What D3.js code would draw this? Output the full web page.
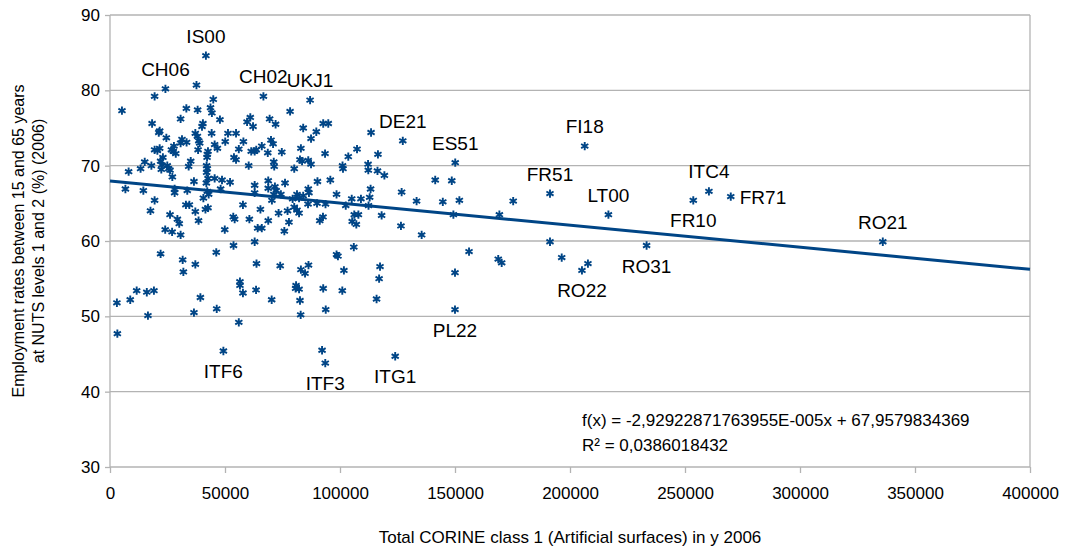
<!DOCTYPE html>
<html>
<head>
<meta charset="utf-8">
<script src="https://cdn.jsdelivr.net/npm/d3@7"></script>
<style>
  body { margin: 0; background: #fff; }
  text { font-family: "Liberation Sans", Arial, sans-serif; fill: #000; }
</style>
</head>
<body>
<div id="chart"></div>
<script>
// CORINE class 1 area (x) vs employment rate (y), one pair per NUTS region
var corineX = [
  5200, 19400, 24100, 37600, 41700, 44900, 33200, 38100, 43700, 44300,
  30700, 18300, 40400, 40000, 47800, 61000, 59600, 62200, 21600, 21200,
  24500, 37100, 38000, 44200, 51300, 54800, 31300, 30700, 33300, 38600,
  39000, 45500, 46700, 50100, 58000, 27800, 26700, 27500, 28600, 21600,
  20600, 19400, 38300, 42600, 42300, 42200, 56000, 61400, 62900, 53900,
  54800, 23000, 22000, 22600, 22300, 35100, 34200, 15100, 13300, 18000,
  24900, 25500, 26100, 42000, 42300, 42000, 42600, 41900, 60300, 8100,
  27100, 36500, 45500, 48700, 52200, 62900, 6700, 14500, 28100, 28100,
  33600, 42300, 42900, 48100, 40600, 19400, 33000, 34500, 57800, 62900,
  66700, 87000, 78300, 69400, 72000, 84000, 92700, 94900, 89700, 87400,
  113500, 127300, 70000, 70900, 66000, 63600, 68600, 74700, 83000, 93500,
  107400, 103600, 116500, 82600, 83500, 86200, 87400, 71200, 71400, 80100,
  101100, 101300, 112200, 112300, 116300, 119300, 68800, 68800, 76100, 90200,
  95800, 113300, 71700, 72300, 71200, 74300, 70400, 81300, 84000, 82200,
  86200, 86500, 98500, 105100, 109100, 112900, 126800, 79400, 17600, 37100,
  41500, 42600, 26100, 29300, 30100, 38500, 53600, 54200, 60600, 24000,
  27000, 30700, 49900, 64200, 66000, 53700, 62900, 22000, 31600, 37100,
  46200, 63700, 31900, 56500, 56500, 57800, 11600, 16000, 19100, 3000,
  8800, 39300, 46400, 36500, 16500, 56000, 3200, 49300, 63500, 65400,
  73300, 77200, 80100, 81300, 82200, 86100, 90000, 93700, 102500, 112400,
  106200, 108000, 105300, 107100, 118100, 92600, 91200, 68800, 77800, 126500,
  75800, 106000, 98500, 99100, 74000, 86300, 83000, 84800, 101700, 117400,
  117000, 80900, 80700, 82200, 92700, 101000, 115900, 70300, 82600, 93800,
  82900, 92200, 93600, 124000, 135500, 141400, 148600, 150100, 151900, 144700,
  133300, 149300, 156100, 150000, 150000, 169300, 175300, 168800, 170300, 191300,
  191300, 196400, 205200, 207800, 206400, 216700, 233300, 253600, 260400, 269900,
  336000
];
var employY = [
  77.3, 79.2, 80.2, 80.7, 84.6, 78.8, 77.6, 77.4, 77.7, 77.0,
  76.2, 75.6, 75.6, 75.2, 76.1, 76.4, 75.8, 75.2, 74.6, 74.4,
  73.7, 74.3, 73.9, 74.3, 74.3, 74.3, 73.5, 73.0, 73.1, 73.3,
  73.0, 72.8, 72.3, 73.2, 73.2, 72.6, 72.1, 71.9, 71.6, 72.3,
  72.0, 72.1, 72.1, 71.9, 71.5, 71.1, 72.2, 71.9, 71.9, 71.1,
  70.8, 71.1, 70.6, 70.1, 69.5, 70.6, 69.9, 70.5, 69.6, 70.0,
  70.0, 69.6, 69.4, 70.0, 69.6, 69.1, 68.3, 67.7, 70.0, 69.2,
  68.5, 67.9, 68.3, 68.1, 67.8, 67.4, 66.9, 66.7, 66.9, 66.4,
  66.7, 66.6, 66.2, 66.9, 65.7, 65.4, 64.8, 64.8, 64.8, 66.4,
  79.2, 78.7, 77.2, 76.2, 75.5, 75.0, 75.6, 75.6, 74.5, 73.6,
  74.4, 73.3, 73.4, 72.9, 72.6, 72.1, 71.7, 71.8, 72.3, 71.6,
  72.2, 71.2, 71.5, 70.8, 70.6, 70.7, 70.2, 70.5, 69.9, 69.6,
  70.0, 69.6, 70.2, 69.4, 69.3, 68.7, 68.0, 67.0, 67.7, 67.9,
  68.1, 66.9, 67.2, 66.7, 66.2, 66.2, 65.4, 66.2, 66.0, 65.7,
  66.9, 66.4, 66.2, 65.6, 65.6, 65.8, 66.5, 65.6, 64.0, 63.9,
  64.2, 64.4, 63.5, 62.9, 62.3, 62.7, 63.2, 62.9, 62.9, 61.5,
  61.2, 60.8, 61.5, 61.7, 61.7, 59.4, 59.9, 58.3, 57.5, 56.9,
  58.5, 57.0, 55.9, 54.6, 54.1, 53.1, 53.4, 53.2, 53.4, 51.8,
  52.2, 52.5, 51.0, 50.5, 50.1, 49.2, 47.7, 45.4, 53.5, 64.2,
  63.7, 64.0, 64.5, 64.1, 63.7, 64.9, 65.0, 64.9, 64.7, 64.7,
  63.5, 63.5, 62.6, 62.2, 63.4, 63.2, 62.7, 62.7, 62.5, 62.0,
  61.3, 59.2, 58.2, 58.0, 56.7, 56.8, 56.2, 55.7, 56.1, 56.6,
  55.0, 54.1, 53.7, 53.6, 53.7, 53.4, 52.3, 52.2, 52.1, 50.9,
  50.2, 45.5, 43.8, 44.7, 60.8, 68.1, 68.0, 70.4, 65.4, 65.2,
  65.3, 63.5, 58.6, 55.8, 50.9, 63.5, 65.3, 57.6, 57.1, 66.3,
  59.9, 57.8, 56.1, 57.0, 72.6, 63.5, 59.4, 65.4, 66.6, 65.9,
  59.9
];

// region labels and where they sit relative to their point
var labelNames = ["IS00", "CH06", "CH02", "UKJ1", "DE21", "ES51", "FI18", "FR51", "LT00", "ITC4",
  "FR71", "FR10", "RO21", "RO31", "RO22", "PL22", "ITF6", "ITF3", "ITG1"];
var labelX = [41700, 24100, 66700, 87000, 127300, 150100, 206400, 191300, 216700, 260400,
  269900, 253600, 336000, 233300, 205200, 150000, 49300, 93600, 124000];
var labelY = [84.6, 80.2, 79.2, 78.7, 73.3, 70.4, 72.6, 66.3, 63.5, 66.6,
  65.9, 65.4, 59.9, 59.4, 56.1, 50.9, 45.4, 43.8, 44.7];
var labelPos = ["above", "above", "above", "above", "above", "above", "above", "above", "above", "above",
  "right", "below", "above", "below", "below", "below", "below", "below", "below"];

var xTicks = [0, 50000, 100000, 150000, 200000, 250000, 300000, 350000, 400000];
var yTicks = [30, 40, 50, 60, 70, 80, 90];

// linear trend as printed on the chart
var slope = -2.92922871763955e-5;
var intercept = 67.9579834369;
var eqText = "f(x) = -2,92922871763955E-005x + 67,9579834369";
var r2Text = "R² = 0,0386018432";

var svgWidth = 1067;
var svgHeight = 553;
var margin = { top: 15, right: 37, bottom: 86, left: 110 };
var width = svgWidth - margin.left - margin.right;
var height = svgHeight - margin.top - margin.bottom;
var blue = "#004586";
var grid = "#b3b3b3";

var svg = d3.select("#chart").append("svg")
  .attr("width", svgWidth)
  .attr("height", svgHeight);

var chartGroup = svg.append("g")
  .attr("transform", `translate(${margin.left}, ${margin.top})`);

var xLinearScale = d3.scaleLinear().domain([0, 400000]).range([0, width]);
var yLinearScale = d3.scaleLinear().domain([30, 90]).range([height, 0]);

// horizontal grid lines
chartGroup.append("g")
  .selectAll("line")
  .data(yTicks)
  .enter()
  .append("line")
  .attr("x1", 0)
  .attr("x2", width)
  .attr("y1", d => yLinearScale(d))
  .attr("y2", d => yLinearScale(d))
  .attr("stroke", grid)
  .attr("stroke-width", 1.3);

// left and right frame
chartGroup.append("line")
  .attr("x1", 0).attr("x2", 0).attr("y1", 0).attr("y2", height)
  .attr("stroke", grid).attr("stroke-width", 1.3);
chartGroup.append("line")
  .attr("x1", width).attr("x2", width).attr("y1", 0).attr("y2", height)
  .attr("stroke", grid).attr("stroke-width", 1.3);

var bottomAxis = d3.axisBottom(xLinearScale)
  .tickValues(xTicks)
  .tickSize(6)
  .tickPadding(14)
  .tickFormat(d3.format("d"));
var leftAxis = d3.axisLeft(yLinearScale)
  .tickValues(yTicks)
  .tickSize(5)
  .tickPadding(5);

var xAxis = chartGroup.append("g")
  .attr("transform", `translate(0, ${height})`)
  .call(bottomAxis);
var yAxis = chartGroup.append("g").call(leftAxis);

[xAxis, yAxis].forEach(function(ax) {
  ax.select(".domain").remove();
  ax.selectAll(".tick line").attr("stroke", grid).attr("stroke-width", 1.3);
  ax.selectAll(".tick text")
    .style("font-family", "'Liberation Sans', Arial, sans-serif")
    .style("font-size", "17px")
    .attr("fill", "#000");
});

// trend line
var trend = xLinearScale.domain().map(x => [x, slope * x + intercept]);
chartGroup.append("path")
  .datum(trend)
  .attr("d", d3.line().x(d => xLinearScale(d[0])).y(d => yLinearScale(d[1])))
  .attr("fill", "none")
  .attr("stroke", blue)
  .attr("stroke-width", 3);

// points
var points = corineX.map((x, i) => ({ x: x, y: employY[i] }));
var star = d3.symbol().type(d3.symbolAsterisk).size(48);
chartGroup.append("g")
  .selectAll("path")
  .data(points)
  .enter()
  .append("path")
  .attr("d", star)
  .attr("transform", d => `translate(${xLinearScale(d.x)}, ${yLinearScale(d.y)})`)
  .attr("fill", "none")
  .attr("stroke", blue)
  .attr("stroke-width", 1.9);

// region labels
var labels = labelNames.map((n, i) => ({ name: n, x: labelX[i], y: labelY[i], pos: labelPos[i] }));
chartGroup.append("g")
  .selectAll("text")
  .data(labels)
  .enter()
  .append("text")
  .attr("x", d => xLinearScale(d.x) + (d.pos == "right" ? 9 : 0))
  .attr("y", function(d) {
    var py = yLinearScale(d.y);
    if (d.pos == "above") return py - 13;
    if (d.pos == "below") return py + 27;
    return py + 7;
  })
  .attr("text-anchor", d => d.pos == "right" ? "start" : "middle")
  .style("font-size", "19px")
  .text(d => d.name);

// equation
chartGroup.append("text")
  .attr("x", 472)
  .attr("y", 411)
  .style("font-size", "17px")
  .text(eqText);
chartGroup.append("text")
  .attr("x", 472)
  .attr("y", 436)
  .style("font-size", "17px")
  .text(r2Text);

// axis titles
svg.append("text")
  .attr("x", margin.left + width / 2)
  .attr("y", 543)
  .attr("text-anchor", "middle")
  .style("font-size", "17px")
  .text("Total CORINE class 1 (Artificial surfaces) in y 2006");

var yTitle = svg.append("text")
  .attr("transform", "translate(24, 241) rotate(-90)")
  .attr("text-anchor", "middle")
  .style("font-size", "16px");
yTitle.append("tspan").attr("x", 0).attr("dy", 0).text("Employment rates between 15 and 65 years");
yTitle.append("tspan").attr("x", 0).attr("dy", 20).text("at NUTS levels 1 and 2 (%) (2006)");
</script>
</body>
</html>
